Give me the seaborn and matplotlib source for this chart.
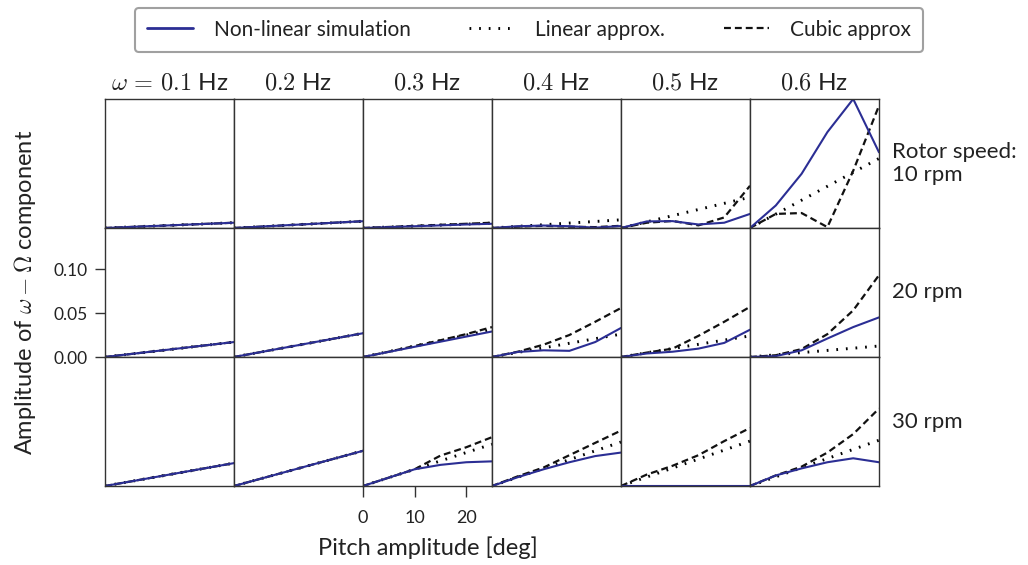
import numpy as np
import pandas as pd
import matplotlib
matplotlib.use("Agg")
import matplotlib.pyplot as plt
import seaborn as sns
from matplotlib.lines import Line2D

# ---------------- data ----------------
pitch = [0, 5, 10, 15, 20, 25]
freq_labels = ["$\\omega\\,=\\,0.1$ Hz", "$0.2$ Hz", "$0.3$ Hz", "$0.4$ Hz", "$0.5$ Hz", "$0.6$ Hz"]
row_labels = ["Rotor speed:\n10 rpm", "20 rpm", "30 rpm"]
yticks = [0.00, 0.05, 0.10]
xticks = [0, 10, 20]

# Non-linear simulation  [rotor speed row][frequency column]
nonlinear_10rpm = [
    [0, 0.0012, 0.0024, 0.0036, 0.0048, 0.0060],
    [0, 0.0015, 0.0031, 0.0046, 0.0062, 0.0077],
    [0, 0.0010, 0.0020, 0.0030, 0.0040, 0.0048],
    [0, 0.0020, 0.0028, 0.0020, 0.0004, 0.0022],
    [0, 0.0075, 0.0078, 0.0040, 0.0060, 0.0160],
    [0, 0.0256, 0.0616, 0.1090, 0.1466, 0.0860],
]
nonlinear_20rpm = [
    [0, 0.0034, 0.0068, 0.0102, 0.0136, 0.0170],
    [0, 0.0054, 0.0108, 0.0162, 0.0216, 0.0270],
    [0, 0.0058, 0.0116, 0.0174, 0.0232, 0.0290],
    [0, 0.0057, 0.0076, 0.0070, 0.0170, 0.0330],
    [0, 0.0040, 0.0060, 0.0095, 0.0160, 0.0310],
    [0, 0.0010, 0.0076, 0.0210, 0.0340, 0.0450],
]
nonlinear_30rpm = [
    [0, 0.0052, 0.0104, 0.0156, 0.0208, 0.0260],
    [0, 0.0080, 0.0160, 0.0240, 0.0320, 0.0400],
    [0, 0.0095, 0.0190, 0.0240, 0.0270, 0.0280],
    [0, 0.0100, 0.0190, 0.0270, 0.0340, 0.0380],
    [0, 0.0000, 0.0000, 0.0000, 0.0000, 0.0000],
    [0, 0.0120, 0.0200, 0.0270, 0.0315, 0.0270],
]

# Linear approximation
linear_10rpm = [
    [0, 0.0012, 0.0024, 0.0036, 0.0048, 0.0060],
    [0, 0.0015, 0.0031, 0.0046, 0.0062, 0.0077],
    [0, 0.0011, 0.0022, 0.0033, 0.0044, 0.0055],
    [0, 0.0019, 0.0037, 0.0056, 0.0074, 0.0093],
    [0, 0.0070, 0.0140, 0.0210, 0.0280, 0.0350],
    [0, 0.0158, 0.0316, 0.0474, 0.0632, 0.0790],
]
linear_20rpm = [
    [0, 0.0034, 0.0068, 0.0102, 0.0136, 0.0170],
    [0, 0.0054, 0.0108, 0.0162, 0.0216, 0.0270],
    [0, 0.0062, 0.0124, 0.0186, 0.0248, 0.0310],
    [0, 0.0052, 0.0104, 0.0156, 0.0208, 0.0260],
    [0, 0.0048, 0.0096, 0.0144, 0.0192, 0.0240],
    [0, 0.0025, 0.0050, 0.0075, 0.0100, 0.0125],
]
linear_30rpm = [
    [0, 0.0052, 0.0104, 0.0156, 0.0208, 0.0260],
    [0, 0.0080, 0.0160, 0.0240, 0.0320, 0.0400],
    [0, 0.0095, 0.0190, 0.0285, 0.0380, 0.0475],
    [0, 0.0100, 0.0200, 0.0300, 0.0400, 0.0500],
    [0, 0.0102, 0.0204, 0.0306, 0.0408, 0.0510],
    [0, 0.0104, 0.0208, 0.0312, 0.0416, 0.0520],
]

# Cubic approximation
cubic_10rpm = [
    [0, 0.0012, 0.0024, 0.0036, 0.0048, 0.0060],
    [0, 0.0015, 0.0031, 0.0046, 0.0062, 0.0077],
    [0, 0.0012, 0.0024, 0.0036, 0.0048, 0.0060],
    [0, 0.0015, 0.0025, 0.0015, 0.0010, 0.0025],
    [0, 0.0060, 0.0080, 0.0030, 0.0120, 0.0480],
    [0, 0.0160, 0.0170, 0.0010, 0.0650, 0.1390],
]
cubic_20rpm = [
    [0, 0.0034, 0.0068, 0.0102, 0.0136, 0.0170],
    [0, 0.0054, 0.0108, 0.0162, 0.0216, 0.0270],
    [0, 0.0060, 0.0125, 0.0190, 0.0260, 0.0340],
    [0, 0.0060, 0.0140, 0.0250, 0.0400, 0.0557],
    [0, 0.0050, 0.0095, 0.0240, 0.0400, 0.0570],
    [0, 0.0020, 0.0090, 0.0260, 0.0530, 0.0930],
]
cubic_30rpm = [
    [0, 0.0052, 0.0104, 0.0156, 0.0208, 0.0260],
    [0, 0.0080, 0.0160, 0.0240, 0.0320, 0.0400],
    [0, 0.0095, 0.0190, 0.0345, 0.0440, 0.0555],
    [0, 0.0110, 0.0210, 0.0350, 0.0490, 0.0630],
    [0, 0.0130, 0.0230, 0.0350, 0.0510, 0.0660],
    [0, 0.0120, 0.0220, 0.0380, 0.0590, 0.0880],
]

nonlinear = [nonlinear_10rpm, nonlinear_20rpm, nonlinear_30rpm]
linear = [linear_10rpm, linear_20rpm, linear_30rpm]
cubic = [cubic_10rpm, cubic_20rpm, cubic_30rpm]

# ---------------- style ----------------
sns.set_theme(style="white")
plt.rcParams["font.family"] = ["Lato", "DejaVu Sans"]
plt.rcParams["mathtext.fontset"] = "cm"

NAVY = "#2b2e94"
SPINE = "#333333"
TXT = "#222222"
DOT = (0, (0.6, 2.7))
DASH = (0, (3.1, 1.8))

fig, axes = plt.subplots(3, 6, figsize=(10.28, 5.65), dpi=100, sharex=True, sharey=True)
fig.subplots_adjust(left=105/1028, right=879/1028, top=1-99/565, bottom=1-486/565,
                    wspace=0, hspace=0)

for r in range(3):
    for c in range(6):
        ax = axes[r, c]
        sns.lineplot(x=pitch, y=linear[r][c], ax=ax, color="black", linestyle=DOT,
                     linewidth=2.1, estimator=None)
        sns.lineplot(x=pitch, y=cubic[r][c], ax=ax, color="#111111", linestyle=DASH,
                     linewidth=1.6, estimator=None)
        sns.lineplot(x=pitch, y=nonlinear[r][c], ax=ax, color=NAVY, linestyle="-",
                     linewidth=1.5, estimator=None)
        ax.set_xlim(0, 25)
        ax.set_ylim(0, 0.1466)
        ax.set_xlabel("")
        ax.set_ylabel("")
        for s in ax.spines.values():
            s.set_color(SPINE)
            s.set_linewidth(1.0)
        ax.tick_params(left=False, bottom=False, labelleft=False, labelbottom=False)
        if r == 0:
            ax.set_title(freq_labels[c], fontsize=17.5, pad=7, color=TXT)
        if c == 5:
            ax.text(1.1, 0.5, row_labels[r], transform=ax.transAxes, ha="left",
                    va="center", fontsize=16, color=TXT, linespacing=1.15)

# y ticks only on middle-left panel
axm = axes[1, 0]
axm.set_yticks(yticks)
axm.set_yticklabels([f"{v:.2f}" for v in yticks])
axm.tick_params(left=True, labelleft=True, direction="out", length=7.5, width=1,
                color=SPINE, labelsize=12.5, pad=5, labelcolor=TXT)
for r in (0, 2):
    axes[r, 0].tick_params(left=False, labelleft=False)

# x ticks only on bottom panel of third column
axb = axes[2, 2]
axb.set_xticks(xticks)
axb.set_xticklabels([str(v) for v in xticks])
axb.tick_params(bottom=True, labelbottom=True, direction="out", length=8, width=1,
                color=SPINE, labelsize=13, pad=9, labelcolor=TXT)
for c in range(6):
    if c != 2:
        axes[2, c].tick_params(bottom=False, labelbottom=False)
axb.set_xlabel("Pitch amplitude [deg]", fontsize=17, labelpad=8, color=TXT)

fig.text(25/1028, 0.5 + (565/2 - 292)/565, "Amplitude of $\\omega - \\Omega$ component",
         rotation=90, ha="center", va="center", fontsize=17, color=TXT)

handles = [
    Line2D([], [], color=NAVY, linestyle="-", linewidth=2),
    Line2D([], [], color="black", linestyle=DOT, linewidth=2.1),
    Line2D([], [], color="#111111", linestyle=DASH, linewidth=1.6),
]
labels = ["Non-linear simulation", "Linear approx.", "Cubic approx"]
leg = fig.legend(handles, labels, loc="upper center", bbox_to_anchor=(529/1028, 0.994),
                 ncol=3, frameon=True, fancybox=True, fontsize=15, columnspacing=2.8,
                 handlelength=2.2, handletextpad=1.0, borderpad=0.58, borderaxespad=0.2)
for t in leg.get_texts():
    t.set_color(TXT)
leg.get_frame().set_edgecolor("#888888")
leg.get_frame().set_linewidth(1.5)

fig.savefig("out.png", dpi=100)
